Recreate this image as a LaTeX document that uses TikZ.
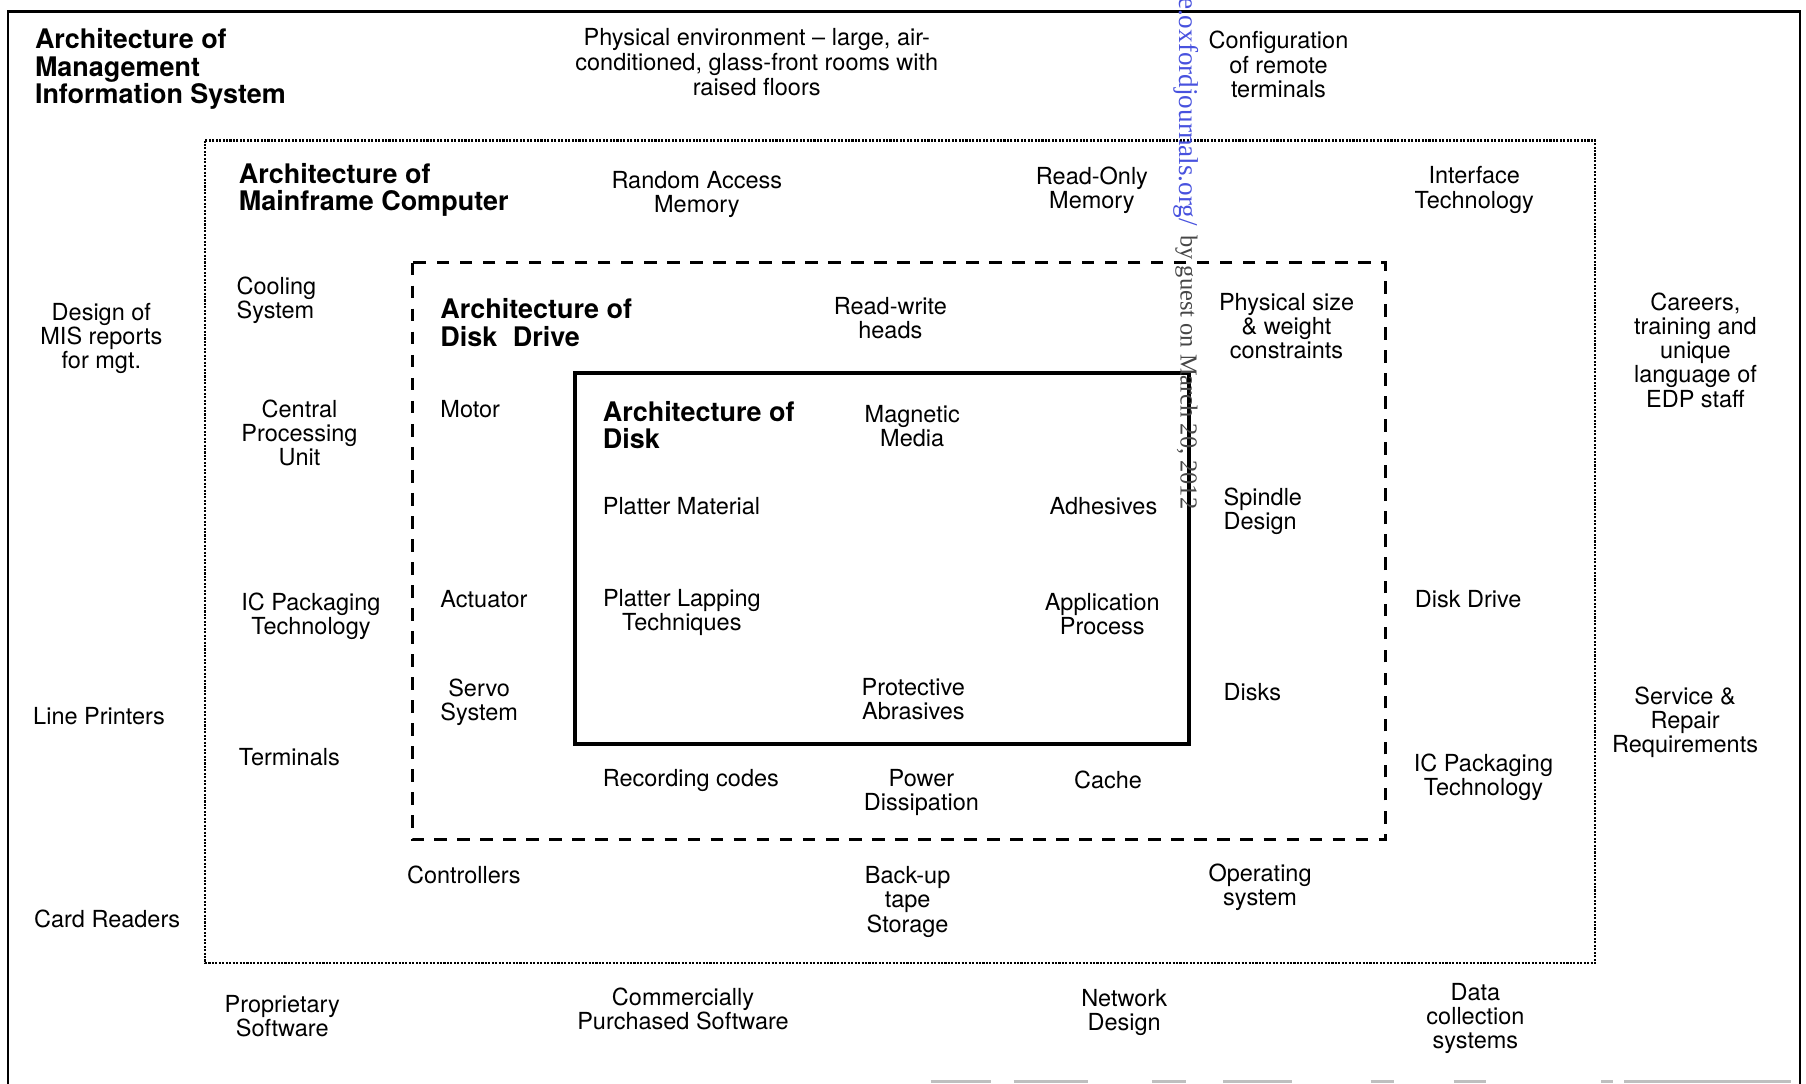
\documentclass[tikz,border=0pt]{standalone}
\usepackage{fontspec}
\setmainfont{TeX Gyre Heros}
\newfontfamily\wmfont{Liberation Serif}
\definecolor{wmblue}{RGB}{72,82,222}
\definecolor{wmgray}{RGB}{70,70,70}
\begin{document}
\begin{tikzpicture}[x=0.5pt,y=-0.5pt,
  lbl/.style={font=\fontsize{10.2}{10.5}\selectfont, inner sep=0pt, align=center},
  lleft/.style={font=\fontsize{10.2}{10.5}\selectfont, inner sep=0pt, align=left, anchor=west},
  hd/.style={font=\fontsize{11.7}{12}\selectfont\bfseries, inner sep=0pt, align=left, anchor=west},
  outerframe/.style={line width=1pt},
  mainframebox/.style={line width=0.9pt, dash pattern=on 0.9pt off 0.6pt},
  drivebox/.style={line width=1.3pt, dash pattern=on 5.5pt off 4.5pt},
  diskbox/.style={line width=1.6pt},
]
\useasboundingbox (0,0) rectangle (1568,941);

% nested system boundaries
\draw[outerframe] (7,945) -- (7,10) -- (1563,10) -- (1563,945);
\draw[mainframebox] (178,122) rectangle (1385,836);
\draw[drivebox] (358,228) rectangle (1203,729);
\draw[diskbox] (499,324) rectangle (1032,646);

% worn lower edge of the outer frame
\foreach \a/\b in {808/860,880/945,1000/1030,1062/1122,1190/1210,1262/1290,1390/1400,1410/1555}
  \draw[black!25, line width=1pt] (\a,939) -- (\b,939);

% management information system level
\node[hd] (mis) at (30,60) {Architecture of\\Management\\Information System};
\node[lbl, font=\fontsize{10.2}{9.6}\selectfont] (phys) at (657,54) {Physical environment -- large, air-\\conditioned, glass-front rooms with\\raised floors};
\node[lbl] (config) at (1110,56) {Configuration\\of remote\\terminals};
\node[lbl] (design) at (88,294) {Design of\\MIS reports\\for mgt.};
\node[lbl] (careers) at (1472,304) {Careers,\\training and\\unique\\language of\\EDP staff};
\node[lbl] (printers) at (86,622) {Line Printers};
\node[lbl] (service) at (1463,627) {Service \&\\Repair\\Requirements};
\node[lbl] (cards) at (93,798) {Card Readers};
\node[lbl] (propsw) at (245,882) {Proprietary\\Software};
\node[lbl] (commsw) at (593,876) {Commercially\\Purchased Software};
\node[lbl] (network) at (976,879) {Network\\Design};
\node[lbl] (datacoll) at (1281,884) {Data\\collection\\systems};

% mainframe computer level
\node[hd] (mfhead) at (207,165) {Architecture of\\Mainframe Computer};
\node[lbl] (ram) at (605,169) {Random Access\\Memory};
\node[lbl] (rom) at (948,165) {Read-Only\\Memory};
\node[lbl] (iface) at (1280,165) {Interface\\Technology};
\node[lleft] (cooling) at (205,261) {Cooling\\System};
\node[lbl] (cpu) at (260,376) {Central\\Processing\\Unit};
\node[lbl] (icpackA) at (270,535) {IC Packaging\\Technology};
\node[lleft] (terminals) at (207,657) {Terminals};
\node[lleft] (drive) at (1228,520) {Disk Drive};
\node[lbl] (icpackB) at (1288,675) {IC Packaging\\Technology};
\node[lleft] (controllers) at (353,760) {Controllers};
\node[lbl] (backup) at (788,783) {Back-up\\tape\\Storage};
\node[lbl] (opsys) at (1094,770) {Operating\\system};

% disk drive level
\node[hd] (ddhead) at (382,280) {Architecture of\\Disk\hspace{0.3em} Drive};
\node[lbl] (heads) at (773,276) {Read-write\\heads};
\node[lbl] (physsize) at (1117,283) {Physical size\\\& weight\\constraints};
\node[lleft] (motor) at (382,355) {Motor};
\node[lleft] (spindle) at (1062,444) {Spindle\\Design};
\node[lleft] (actuator) at (382,520) {Actuator};
\node[lbl] (servo) at (416,610) {Servo\\System};
\node[lleft] (disks) at (1062,601) {Disks};
\node[lleft] (recording) at (523,678) {Recording codes};
\node[lbl] (power) at (800,688) {Power\\Dissipation};
\node[lbl] (cache) at (962,677) {Cache};

% disk level
\node[hd] (diskhead) at (523,369) {Architecture of\\Disk};
\node[lbl] (media) at (792,370) {Magnetic\\Media};
\node[lleft] (platter) at (523,439) {Platter Material};
\node[lbl] (adhesives) at (958,439) {Adhesives};
\node[lbl] (lapping) at (592,532) {Platter Lapping\\Techniques};
\node[lbl] (applic) at (957,533) {Application\\Process};
\node[lbl] (abrasives) at (793,607) {Protective\\Abrasives};

% download stamp along the right edge of the disk box
\node[inner sep=0pt, anchor=west, rotate=-90, text=wmblue, font=\wmfont\fontsize{11.8}{12}\selectfont] (stampurl) at (1030,-3) {e.oxfordjournals.org/};
\node[inner sep=0pt, anchor=west, rotate=-90, text=wmgray, font=\wmfont\fontsize{10.6}{12}\selectfont] (stampdate) at (1030,204) {by guest on March 20, 2012};
\end{tikzpicture}
\end{document}
